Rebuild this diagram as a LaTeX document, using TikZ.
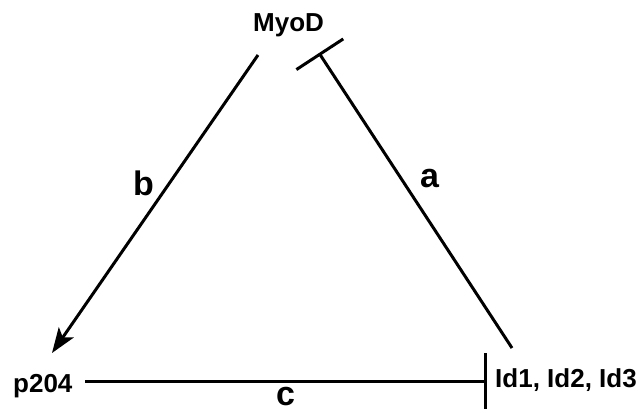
\documentclass[tikz,border=0pt]{standalone}
\usepackage{fontspec}
\setmainfont{Liberation Sans}
\usetikzlibrary{arrows.meta}
\begin{document}
\begin{tikzpicture}[x=1pt,y=-1pt,
  gene/.style={inner sep=0pt,anchor=base west,font=\fontsize{26}{30}\selectfont\bfseries},
  edgelabel/.style={inner sep=0pt,anchor=base west,font=\fontsize{34}{40}\selectfont\bfseries},
  link/.style={line width=3pt},
  inhibit/.style={link,-{Bar[width=56pt,line width=3pt]}},
  activate/.style={link,-{Stealth[length=25pt,width=18pt,inset=6pt]}}]
\useasboundingbox (0,0) rectangle (644,412);
\node[gene] (myod) at (253,31) {MyoD};
\node[gene] (p204) at (13,392) {p204};
\node[gene] (id) at (495,387) {Id1, Id2, Id3};
\coordinate (bs) at (258,55);
\coordinate (be) at (52,353);
\coordinate (as) at (512,348);
\coordinate (ae) at (319,53);
\coordinate (cs) at (85,381);
\coordinate (ce) at (487,381);
\draw[activate] (bs) -- (be);
\draw[inhibit] (as) -- (ae);
\draw[inhibit] (cs) -- (ce);
\node[edgelabel] (lb) at (133,195) {b};
\node[edgelabel] (la) at (420,187) {a};
\node[edgelabel] (lc) at (276,405) {c};
\end{tikzpicture}
\end{document}
